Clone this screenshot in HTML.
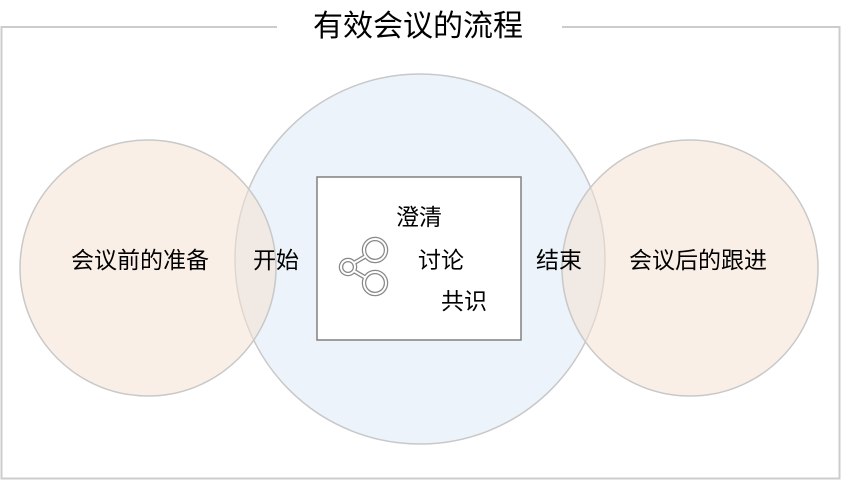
<!DOCTYPE html>
<html><head><meta charset="utf-8"><style>
body{margin:0;background:#fff;}
svg text{font-family:"Liberation Sans","Noto Sans CJK SC",sans-serif;fill:#000;}
</style></head><body>
<svg width="841" height="480" viewBox="0 0 841 480" xmlns="http://www.w3.org/2000/svg">
<rect width="841" height="480" fill="#fff"/>
<path d="M277 27 H1.5 V478.5 H839.5 V27 H562" fill="none" stroke="#cccccc" stroke-width="2"/>
<text x="418" y="36" font-size="30" text-anchor="middle">有效会议的流程</text>
<circle cx="420" cy="259" r="185" fill="#dce9f6" fill-opacity="0.55" stroke="#c8c8c8" stroke-width="1.5"/>
<circle cx="148" cy="268" r="128" fill="#f5e2d2" fill-opacity="0.55" stroke="#c8c8c8" stroke-width="1.5"/>
<circle cx="690" cy="268" r="128" fill="#f5e2d2" fill-opacity="0.55" stroke="#c8c8c8" stroke-width="1.5"/>
<rect x="317" y="177" width="204" height="163" fill="#fff" stroke="#808080" stroke-width="1.5"/>
<g fill="none">
<g stroke="#888" stroke-width="4.5">
<circle cx="348" cy="267" r="7"/><circle cx="375" cy="250" r="11"/><circle cx="375" cy="283" r="11"/>
<line x1="354" y1="263" x2="366" y2="256"/><line x1="354" y1="271" x2="366" y2="278"/>
</g>
<g stroke="#fff" stroke-width="2">
<circle cx="348" cy="267" r="7"/><circle cx="375" cy="250" r="11"/><circle cx="375" cy="283" r="11"/>
<line x1="354" y1="263" x2="366" y2="256"/><line x1="354" y1="271" x2="366" y2="278"/>
</g>
</g>
<g font-size="23">
<text x="419" y="225" text-anchor="middle">澄清</text>
<text x="441" y="268" text-anchor="middle">讨论</text>
<text x="464" y="309" text-anchor="middle">共识</text>
<text x="140" y="268" text-anchor="middle">会议前的准备</text>
<text x="698" y="268" text-anchor="middle">会议后的跟进</text>
<text x="276" y="268" text-anchor="middle">开始</text>
<text x="559" y="268" text-anchor="middle">结束</text>
</g>
</svg>
</body></html>
